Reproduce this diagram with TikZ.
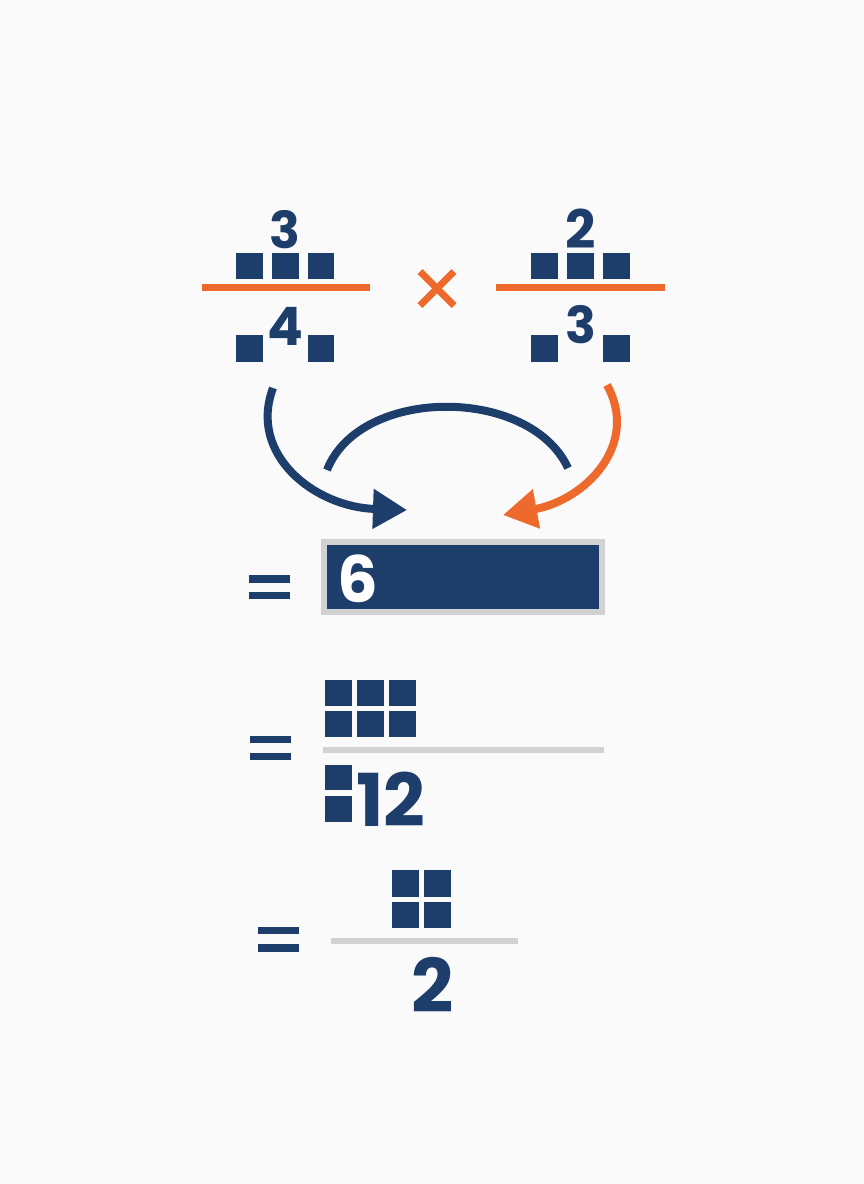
\documentclass[tikz,border=0pt]{standalone}
\usepackage{fontspec}
\setmainfont{Poppins}
\usetikzlibrary{arrows.meta,calc}
\definecolor{navy}{HTML}{1D3D6B}
\definecolor{orng}{HTML}{EE6A2C}
\definecolor{lgray}{HTML}{D2D2D2}
\definecolor{bg}{HTML}{FAFAFA}
\begin{document}
\begin{tikzpicture}[x=1pt,y=-1pt,
  sq/.style={fill=navy},
  num/.style={text=navy,font=\bfseries,inner sep=0pt,anchor=center},
  bar/.style={fill=navy},
  barline/.style={line width=6.5pt},
  arr/.style={line width=8pt,-{Triangle[length=34pt,width=38pt]}},
]
\fill[bg] (0,0) rectangle (864,1184);
\useasboundingbox (0,0) rectangle (864,1184);

% ---------- left fraction 3/4 ----------
\node[num,font=\bfseries\fontsize{51}{51}\selectfont] (n3a) at (285,230) {3};
\foreach \x in {236,272,307.5}{\fill[sq] (\x,252.5) rectangle ++(26.5,26.5);}
\draw[orng,barline] (201.5,287.7) -- (369.5,287.7);
\node[num,font=\bfseries\fontsize{53}{53}\selectfont] (n4) at (285,326) {4};
\foreach \x in {236,307.5}{\fill[sq] (\x,335.2) rectangle ++(26.5,26.5);}

% ---------- times sign ----------
\coordinate (tc) at (437,288.5);
\draw[orng,line width=7pt] ($(tc)+(-17,-17)$) -- ($(tc)+(17,17)$);
\draw[orng,line width=7pt] ($(tc)+(-17,17)$) -- ($(tc)+(17,-17)$);

% ---------- right fraction 2/3 ----------
\node[num,font=\bfseries\fontsize{53}{53}\selectfont] (n2a) at (580.5,229) {2};
\foreach \x in {531,567,603}{\fill[sq] (\x,252.5) rectangle ++(26.5,26.5);}
\draw[orng,barline] (496,287.7) -- (664.5,287.7);
\node[num,font=\bfseries\fontsize{51}{51}\selectfont] (n3b) at (580.5,325) {3};
\foreach \x in {531,603}{\fill[sq] (\x,335.2) rectangle ++(26.5,26.5);}

% ---------- arrows ----------
\coordinate (la) at (273,388);
\coordinate (lt) at (407,510);
\coordinate (ra) at (607,385);
\coordinate (rt) at (503,515);
\coordinate (ma) at (327,470);
\coordinate (mb) at (568,468);
\draw[navy,arr] (la) .. controls (248,455) and (315,507) .. (lt);
\draw[orng,arr] (ra) .. controls (640,445) and (585,500) .. (rt);
\draw[navy,line width=8pt] (ma) .. controls (360,386) and (530,386) .. (mb);

% ---------- = 6 box ----------
\fill[bar] (248.5,575) rectangle (290,582.5);
\fill[bar] (248.5,591.8) rectangle (290,599.2);
\node[draw=lgray,line width=6pt,fill=navy,minimum width=278.5pt,minimum height=70pt,inner sep=0pt,outer sep=0pt,anchor=north west] (box) at (323.7,542) {};
\node[font=\bfseries\fontsize{64}{64}\selectfont,text=white,inner sep=0pt] (six) at (357.5,578.5) {6};

% ---------- = 6/12 ----------
\fill[bar] (249.5,736) rectangle (290.7,743.3);
\fill[bar] (249.5,752.7) rectangle (290.7,760);
\foreach \x in {325,357,389.2}{\foreach \y in {680,711}{\fill[sq] (\x,\y) rectangle ++(26.6,26.3);}}
\draw[lgray,line width=6pt] (323.3,749.7) -- (604,749.7);
\fill[sq] (325,765) rectangle ++(26.6,25.2);
\fill[sq] (325,795.8) rectangle ++(26.6,26.5);
\node[num,font=\bfseries\fontsize{73}{73}\selectfont,anchor=west] (n12) at (356,799.3) {12};

% ---------- = 4/2 ----------
\fill[bar] (257.7,926.7) rectangle (299,934.3);
\fill[bar] (257.7,944.2) rectangle (299,952.3);
\foreach \x in {392.3,424}{\foreach \y in {870,901.7}{\fill[sq] (\x,\y) rectangle ++(26.7,26.6);}}
\draw[lgray,line width=6pt] (331,941.3) -- (518.3,941.3);
\node[num,font=\bfseries\fontsize{74}{74}\selectfont] (n2b) at (433,985) {2};
\end{tikzpicture}
\end{document}
